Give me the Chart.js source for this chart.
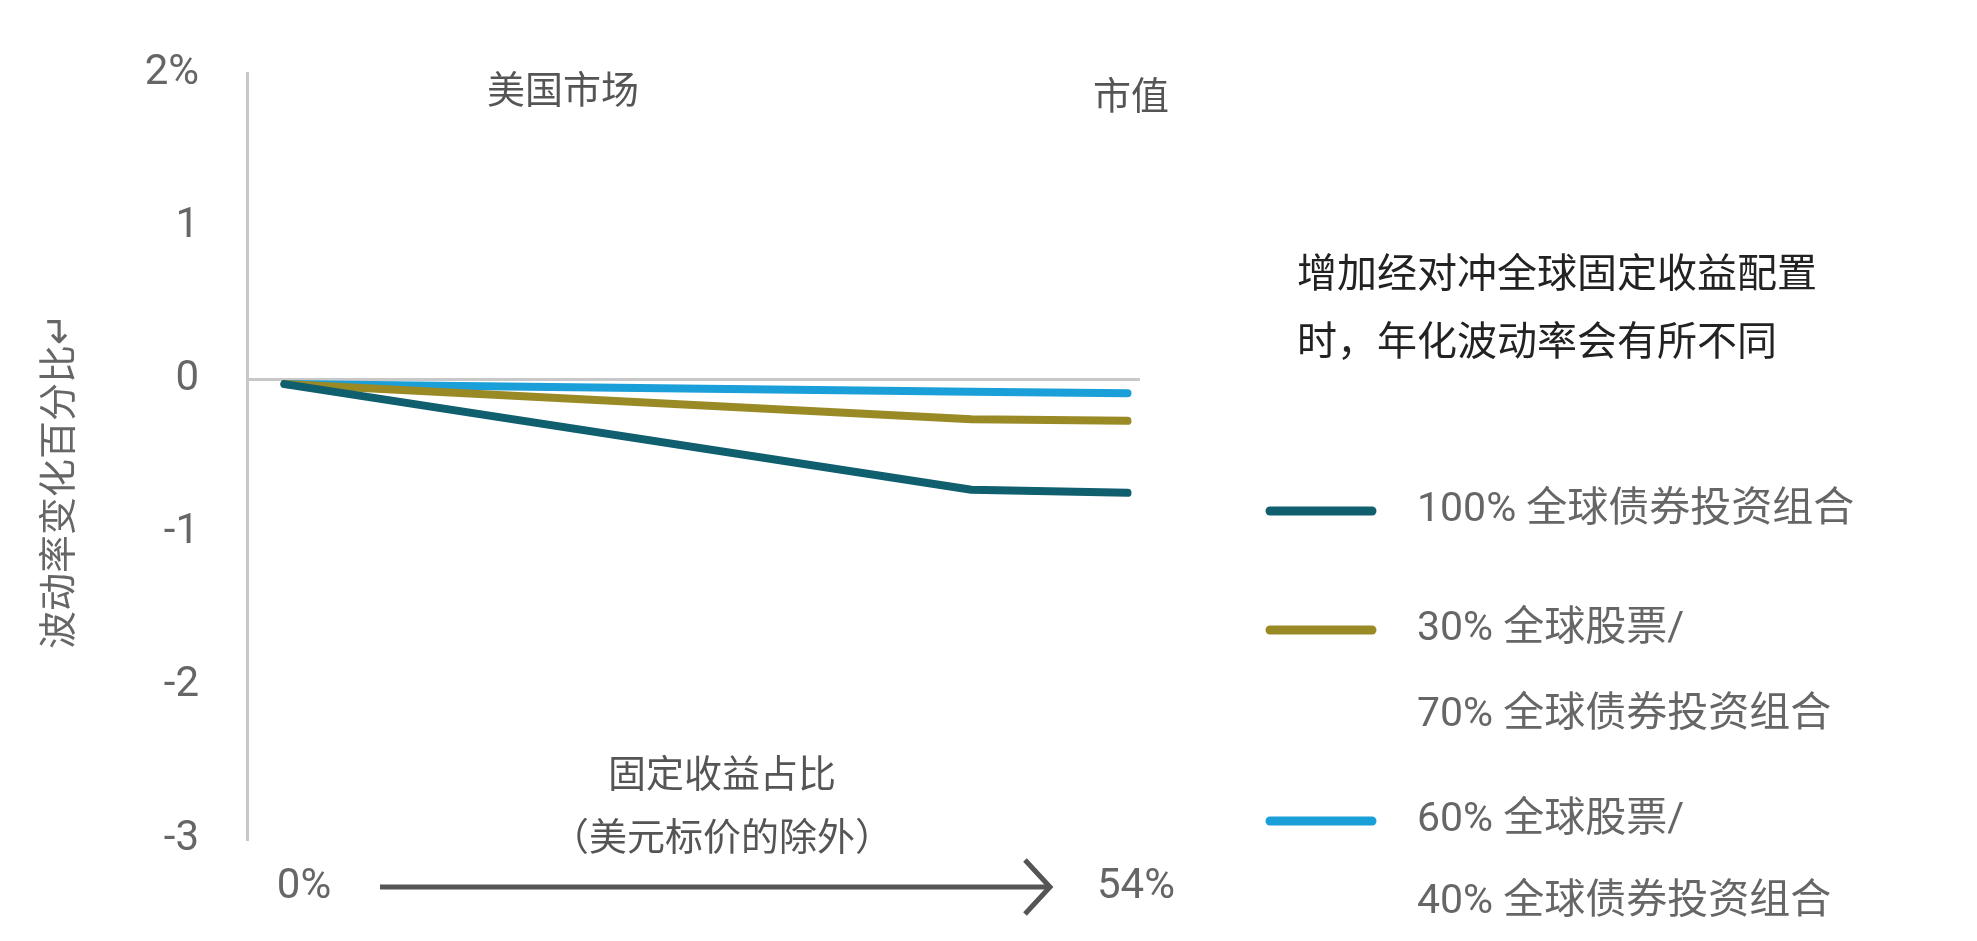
<!DOCTYPE html>
<html><head><meta charset="utf-8">
<script src="https://cdn.jsdelivr.net/npm/chart.js@4/dist/chart.umd.min.js"></script>
<style>html,body{margin:0;background:#fff}#w{width:1977px;height:941px}</style>
</head><body><div id="w"><canvas id="c"></canvas></div>
<script>
const xShare = [0, 44, 54];
const s100 = [-0.03, -0.72, -0.74];
const s3070 = [-0.03, -0.26, -0.27];
const s6040 = [-0.03, -0.08, -0.09];
const seriesNames = [["100% 全球债券投资组合"], ["30% 全球股票/", "70% 全球债券投资组合"], ["60% 全球股票/", "40% 全球债券投资组合"]];
const colors = ["#0f5f6e", "#9a8a26", "#1a9fd8"];
const yTicks = [-3, -2, -1, 0, 1, 2];
const yTickLabels = ["-3", "-2", "-1", "0", "1", "2%"];
const FONT = "'Liberation Sans Narrow','Roboto','Noto Sans CJK SC',sans-serif";
const CJK = "'Noto Sans CJK SC',sans-serif";
const mk = (v) => xShare.map((x, i) => ({x, y: v[i]}));
const overlay = {
  id: 'overlay',
  afterDraw(ch) {
    const c = ch.ctx; c.save();
    c.fillStyle = '#555'; c.textBaseline = 'middle';
    c.font = "38px " + CJK; c.textAlign = 'center';
    c.fillText("美国市场", 563, 89);
    c.fillText("市值", 1131, 95);
    c.fillText("固定收益占比", 722, 773);
    c.fillText("（美元标价的除外）", 722, 836);
    c.fillStyle = '#666'; c.font = "42px " + FONT;
    c.fillText("0%", 304, 887); c.fillText("54%", 1136, 887);
    c.strokeStyle = '#555'; c.lineWidth = 5;
    c.beginPath(); c.moveTo(380, 887); c.lineTo(1048, 887); c.stroke();
    c.beginPath(); c.moveTo(1025, 860); c.lineTo(1050, 887); c.lineTo(1025, 914); c.stroke();
    c.save(); c.translate(57, 481); c.rotate(-Math.PI / 2);
    c.fillStyle = '#666'; c.font = "38px " + CJK; c.fillText("波动率变化百分比↵", 0, 0); c.restore();
    c.fillStyle = '#222'; c.textAlign = 'left'; c.font = "40px " + CJK;
    c.fillText("增加经对冲全球固定收益配置", 1297, 272);
    c.fillText("时，年化波动率会有所不同", 1297, 340);
    const ys = [[511], [630, 716], [821, 903]];
    ch.data.datasets.forEach((d, i) => {
      c.strokeStyle = d.borderColor; c.lineWidth = 9; c.lineCap = 'round';
      c.beginPath(); c.moveTo(1270, ys[i][0]); c.lineTo(1372, ys[i][0]); c.stroke();
      c.fillStyle = '#666'; c.font = "41px " + FONT + "," + CJK;
      seriesNames[i].forEach((t, j) => c.fillText(t, 1417, ys[i][j]));
    });
    c.restore();
  }
};
new Chart(document.getElementById('c'), {
  type: 'line',
  data: { datasets: [
    {data: mk(s100), borderColor: colors[0]},
    {data: mk(s3070), borderColor: colors[1]},
    {data: mk(s6040), borderColor: colors[2]}
  ].map(d => Object.assign(d, {borderWidth: 8, pointRadius: 0, tension: 0, fill: false, borderCapStyle: 'round', borderJoinStyle: 'round'})) },
  options: {
    responsive: true, maintainAspectRatio: false, animation: false,
    layout: {padding: {top: 35, bottom: 102, left: 0, right: 837}},
    plugins: {legend: {display: false}, tooltip: {enabled: false}},
    scales: {
      x: {type: 'linear', min: -2.4, max: 54.8, display: false},
      y: {min: -3, max: 2,
        afterFit(s) { s.width = 247; },
        afterBuildTicks(s) { s.ticks = yTicks.map(v => ({value: v})); },
        border: {display: true, color: '#c8c8c8', width: 3},
        grid: {drawTicks: false, color: (ctx) => ctx.tick && ctx.tick.value === 0 ? '#c8c8c8' : 'rgba(0,0,0,0)', lineWidth: 3},
        ticks: {padding: 48, color: '#666', font: {size: 42, family: FONT},
          callback: (v) => yTickLabels[yTicks.indexOf(v)]}
      }
    }
  },
  plugins: [overlay]
});
</script></body></html>
